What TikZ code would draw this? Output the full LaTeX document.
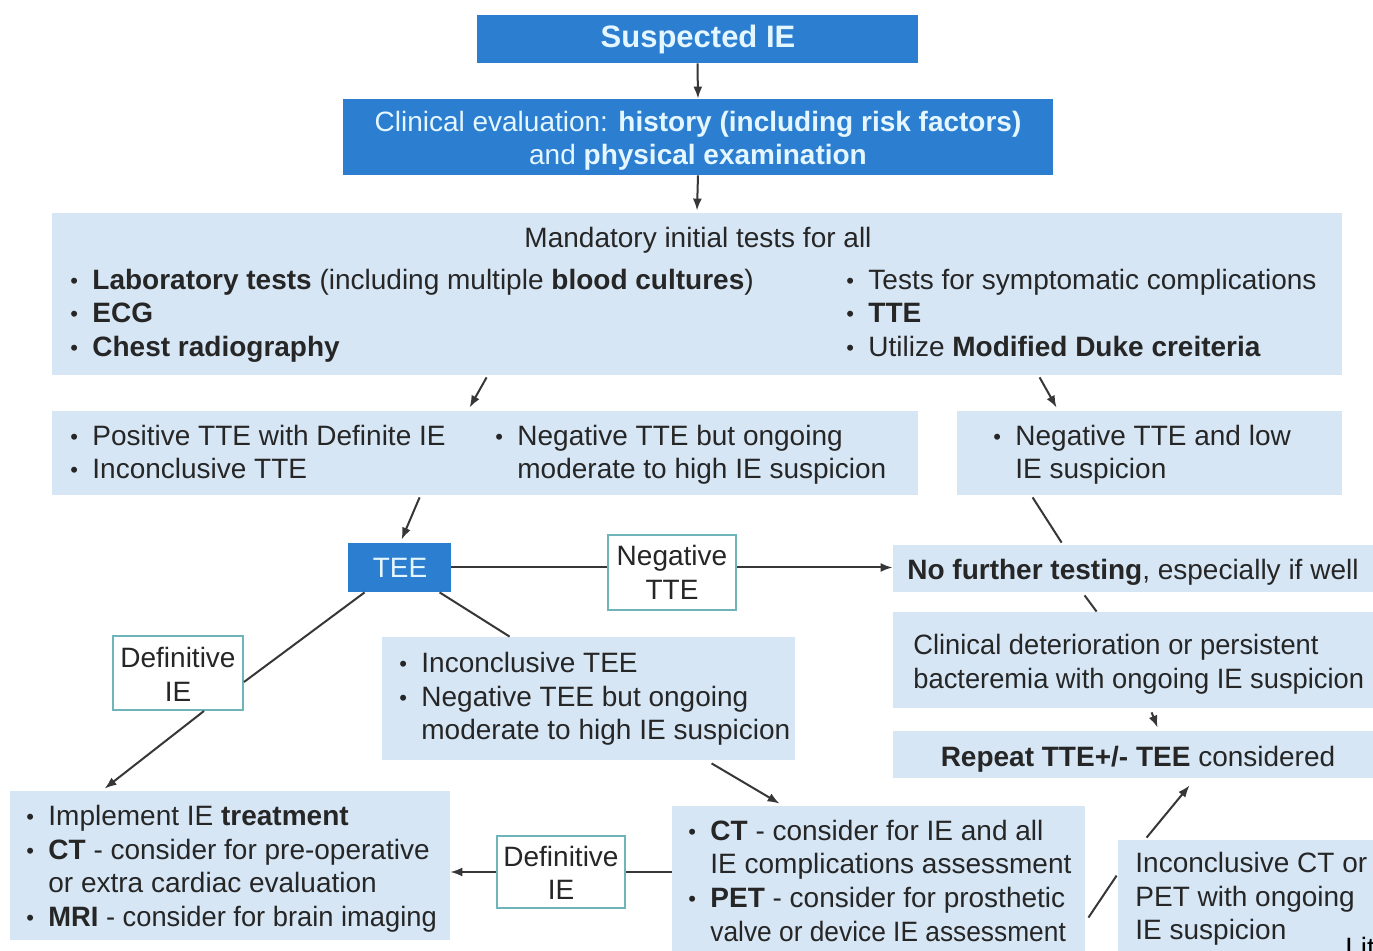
\documentclass[tikz,border=0pt]{standalone}
\usepackage{fontspec}
\setmainfont{Liberation Sans}
\newfontfamily\narrowA[FakeStretch=0.975]{Liberation Sans}
\newfontfamily\narrowB[FakeStretch=0.94]{Liberation Sans}
\usetikzlibrary{fit,calc,arrows.meta}

\definecolor{iedark}{RGB}{43,126,208}
\definecolor{lightbg}{RGB}{214,230,245}
\definecolor{paleblue}{RGB}{228,246,255}
\definecolor{tagline}{RGB}{110,180,185}
\definecolor{ink}{RGB}{38,38,38}
\definecolor{ink2}{RGB}{55,55,55}

\newcommand\fs{\fontsize{14}{16.75}\selectfont}
\newcommand\bul{\makebox[11pt][l]{\raisebox{0.6pt}{\fontsize{11}{11}\selectfont\textbullet}}}

\begin{document}
\begin{tikzpicture}[x=0.5pt,y=-0.5pt,
  lbox/.style={fill=lightbg, draw=none, inner sep=0pt},
  bbox/.style={fill=iedark, draw=none, inner sep=0pt},
  tag/.style={fill=white, draw=tagline, line width=1pt, inner sep=0pt},
  txt/.style={anchor=base west, inner sep=0pt, text=ink, font=\fs},
  ctxt/.style={txt, anchor=base},
  wtxt/.style={ctxt, text=paleblue},
  arr/.style={draw=ink2, line width=1pt, -{Latex[length=6pt,width=4.5pt]}},
  link/.style={draw=ink2, line width=1pt}]

\useasboundingbox (0,0) rectangle (1373,951);
\clip (0,0) rectangle (1373,951);
\fill[white] (0,0) rectangle (1373,951);

% ---------- boxes ----------
\node[bbox, fit={(477,15)(918,63)}] (susp) {};
\node[bbox, fit={(343,99)(1053,175)}] (clin) {};
\node[lbox, fit={(52,213)(1342,375)}] (mand) {};
\node[lbox, fit={(52,411)(918,495)}] (r2l) {};
\node[lbox, fit={(957,411)(1342,495)}] (r2r) {};
\node[bbox, fit={(348,543)(451,592)}] (tee) {};
\node[tag, fit={(608,535)(736,610)}] (negtte) {};
\node[lbox, fit={(893,545)(1390,592)}] (nft) {};
\node[lbox, fit={(893,612)(1390,708)}] (cdet) {};
\node[lbox, fit={(893,731)(1390,778)}] (rep) {};
\node[tag, fit={(113,636)(243,710)}] (def1) {};
\node[lbox, fit={(382,637)(795,760)}] (inctee) {};
\node[lbox, fit={(10,791)(450,940)}] (treat) {};
\node[tag, fit={(497,836)(625,908)}] (def2) {};
\node[lbox, fit={(672,806)(1085,970)}] (ct) {};
\node[lbox, fit={(1118,840)(1390,970)}] (incct) {};

% ---------- texts ----------
\node[wtxt, font=\fontsize{15.5}{18}\selectfont\bfseries] (suspT) at (698,48) {Suspected IE};
\node[wtxt] (clinA) at (698,132) {Clinical evaluation: \textbf{history (including risk factors)}};
\node[wtxt] (clinB) at (698,165) {and \textbf{physical examination}};

\node[ctxt] (mandT) at (698,248) {Mandatory initial tests for all};
\node[txt] (mandL1) at (70,290) {\bul\textbf{Laboratory tests} (including multiple \textbf{blood cultures})};
\node[txt] (mandL2) at (70,323) {\bul\textbf{ECG}};
\node[txt] (mandL3) at (70,357) {\bul\textbf{Chest radiography}};
\node[txt] (mandR1) at (846,290) {\bul Tests for symptomatic complications};
\node[txt] (mandR2) at (846,323) {\bul\textbf{TTE}};
\node[txt] (mandR3) at (846,357) {\bul Utilize \textbf{Modified Duke creiteria}};

\node[txt] (r2lA) at (70,446) {\bul Positive TTE with Definite IE};
\node[txt] (r2lB) at (70,479) {\bul Inconclusive TTE};
\node[txt] (r2lC) at (495,446) {\bul Negative TTE but ongoing};
\node[txt] (r2lD) at (517,479) {moderate to high IE suspicion};
\node[txt] (r2rA) at (993,446) {\bul Negative TTE and low};
\node[txt] (r2rB) at (1015,479) {IE suspicion};

\node[wtxt] (teeT) at (400,578) {TEE};
\node[ctxt] (negA) at (672,566) {Negative};
\node[ctxt] (negB) at (672,600) {TTE};

\node[txt] (nftT) at (907,580) {\textbf{No further testing}, especially if well};
\node[txt] (cdetA) at (913,655) {\narrowA Clinical deterioration or persistent};
\node[txt] (cdetB) at (913,689) {\narrowA bacteremia with ongoing IE suspicion};
\node[ctxt] (repT) at (1138,767) {\textbf{Repeat TTE+/- TEE} considered};

\node[ctxt] (def1A) at (178,668) {Definitive};
\node[ctxt] (def1B) at (178,702) {IE};
\node[txt] (incA) at (399,673) {\bul Inconclusive TEE};
\node[txt] (incB) at (399,707) {\bul Negative TEE but ongoing};
\node[txt] (incC) at (421,740) {moderate to high IE suspicion};

\node[txt] (trA) at (26,826) {\bul Implement IE \textbf{treatment}};
\node[txt] (trB) at (26,860) {\bul\textbf{CT} - consider for pre-operative};
\node[txt] (trC) at (48,893) {or extra cardiac evaluation};
\node[txt] (trD) at (26,927) {\bul\narrowA\textbf{MRI} - consider for brain imaging};

\node[ctxt] (def2A) at (561,867) {Definitive};
\node[ctxt] (def2B) at (561,900) {IE};

\node[txt] (ctA) at (688,841) {\bul\textbf{CT} - consider for IE and all};
\node[txt] (ctB) at (710,874) {IE complications assessment};
\node[txt] (ctC) at (688,908) {\bul\textbf{PET} - consider for prosthetic};
\node[txt] (ctD) at (710,942) {\narrowB valve or device IE assessment};

\node[txt] (icA) at (1135,873) {Inconclusive CT or};
\node[txt] (icB) at (1135,907) {PET with ongoing};
\node[txt] (icC) at (1135,940) {IE suspicion};

\node[txt, text=black] (lit) at (1345,958) {Lit};

% ---------- connectors ----------
\draw[arr] (susp.south) -- (clin.north);
\draw[arr] (clin.south) -- ($(mand.north)+(0,-2)$);
\draw[arr] ($(mand.south west)+(435,2)$) -- ($(r2l.north west)+(418,-3)$);
\draw[arr] ($(mand.south west)+(988,2)$) -- ($(r2r.north west)+(100,-3)$);
\draw[arr] ($(r2l.south west)+(368,2)$) -- ($(tee.north west)+(54,-3)$);

\draw[link] (tee.east) -- (tee.east -| negtte.west);
\draw[arr] (negtte.east |- tee.east) -- (nft.west |- tee.east);

\draw[link] ($(r2r.south west)+(76,2)$) -- ($(nft.north west)+(169,-2)$);
\draw[link] ($(nft.south west)+(192,3)$) -- ($(cdet.north west)+(204,0)$);
\draw[arr] ($(cdet.south west)+(259,4)$) -- ($(rep.north west)+(265,-3)$);

\draw[link] ($(tee.south west)+(17,0)$) -- ($(def1.north east)+(0,47)$);
\draw[arr] ($(def1.south west)+(92,0)$) -- ($(treat.north west)+(95,-2)$);
\draw[link] ($(tee.south west)+(92,0)$) -- ($(inctee.north west)+(128,0)$);
\draw[arr] ($(inctee.south west)+(330,3)$) -- ($(ct.north west)+(108,-2)$);

\draw[link] (ct.west |- def2.east) -- (def2.east);
\draw[arr] (def2.west) -- (treat.east |- def2.west);

\draw[link] ($(ct.north east)+(3,112)$) -- ($(incct.north west)+(-1,36)$);
\draw[arr] ($(incct.north west)+(29,-2)$) -- ($(rep.south west)+(297,7)$);

\end{tikzpicture}
\end{document}
